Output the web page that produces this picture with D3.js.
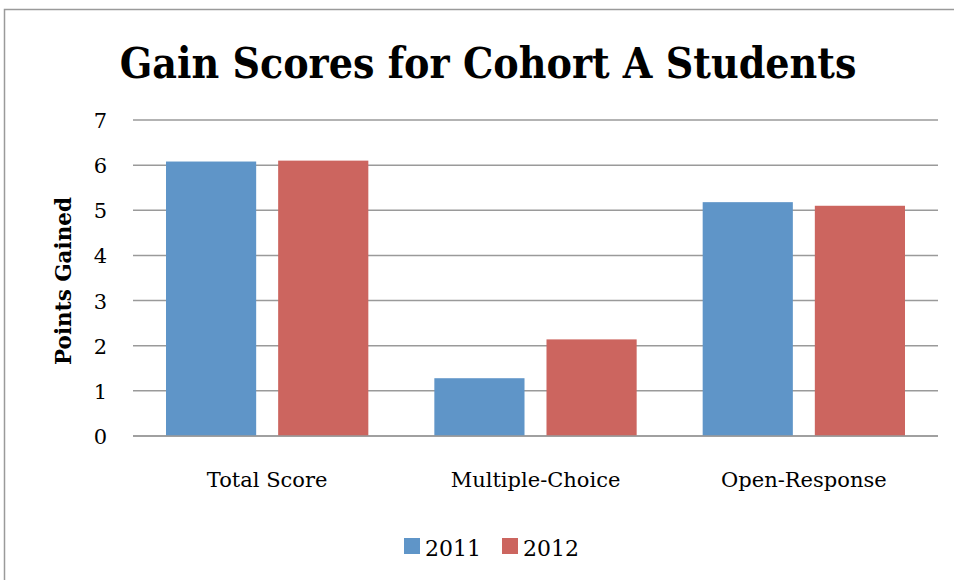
<!DOCTYPE html>
<html><head><meta charset="utf-8">
<script src="https://cdn.jsdelivr.net/npm/d3@7"></script>
<style>body{margin:0;background:#fff}svg{display:block}</style>
</head><body>
<script>
const categories = ["Total Score", "Multiple-Choice", "Open-Response"];
const seriesNames = ["2011", "2012"];
const values2011 = [6.08, 1.28, 5.18];
const values2012 = [6.10, 2.14, 5.10];
const yTicks = [0, 1, 2, 3, 4, 5, 6, 7];
const colors = ["#5F95C8", "#CC655F"];

const W = 954, H = 580;
const m = {left: 133, right: 938, top: 120, bottom: 436};
const svg = d3.select("body").append("svg").attr("width", W).attr("height", H);
const serif = "'DejaVu Serif', 'Liberation Serif', serif";

svg.append("rect").attr("x", 4.5).attr("y", 9.5).attr("width", 1000).attr("height", 700)
  .attr("fill", "none").attr("stroke", "#9a9a9a").attr("stroke-width", 1.5);

const y = d3.scaleLinear().domain([0, 7]).range([m.bottom, m.top]);
const x0 = d3.scaleBand().domain(categories).range([m.left, m.right]).paddingInner(0.246).paddingOuter(0.123);
const x1 = d3.scaleBand().domain(seriesNames).range([0, x0.bandwidth()]).paddingInner(0.196);

svg.append("g").selectAll("line").data(yTicks).join("line")
  .attr("x1", m.left).attr("x2", m.right)
  .attr("y1", d => y(d)).attr("y2", d => y(d))
  .attr("stroke", "#9a9a9a").attr("stroke-width", 1.5);

const yAxis = d3.axisLeft(y).tickValues(yTicks).tickSize(0).tickPadding(0).tickFormat(d3.format("d"));
const ya = svg.append("g").attr("transform", `translate(${m.left - 26},0)`).call(yAxis);
ya.select(".domain").remove();
ya.selectAll("text").attr("font-family", serif).attr("font-size", 21).attr("fill", "#000").attr("dy", "0.36em");

const data = categories.map((c, i) => ({cat: c, vals: [values2011[i], values2012[i]]}));
const groups = svg.append("g").selectAll("g").data(data).join("g")
  .attr("transform", d => `translate(${x0(d.cat)},0)`);
groups.selectAll("rect").data(d => d.vals.map((v, j) => ({s: seriesNames[j], v, j}))).join("rect")
  .attr("x", d => x1(d.s)).attr("width", x1.bandwidth())
  .attr("y", d => y(d.v)).attr("height", d => y(0) - y(d.v))
  .attr("fill", d => colors[d.j]);

svg.append("line").attr("x1", m.left).attr("x2", m.right).attr("y1", y(0)).attr("y2", y(0))
  .attr("stroke", "#9a9a9a").attr("stroke-width", 1.5);

const xAxis = d3.axisBottom(x0).tickSize(0).tickPadding(0);
const xa = svg.append("g").attr("transform", `translate(0,${m.bottom})`).call(xAxis);
xa.select(".domain").remove();
xa.selectAll("text").attr("font-family", serif).attr("font-size", 21).attr("fill", "#000").attr("y", 51).attr("dy", 0);

svg.append("text").attr("transform", `translate(71,281) rotate(-90)`).attr("text-anchor", "middle")
  .attr("font-family", serif).attr("font-weight", "bold").attr("font-size", 21.5).text("Points Gained");

const title = svg.append("text").attr("x", 488).attr("y", 78).attr("text-anchor", "middle")
  .attr("font-family", "'DejaVu Serif Condensed', 'DejaVu Serif', serif").style("font-stretch", "condensed")
  .attr("font-weight", "bold").attr("font-size", 46)
  .text("Gain Scores for Cohort A Students");
const tw = title.node().getComputedTextLength();
if (tw > 745) title.attr("font-size", 46 * 737 / tw);

const leg = svg.append("g");
const legX = [404, 502];
seriesNames.forEach((s, i) => {
  leg.append("rect").attr("x", legX[i]).attr("y", 538).attr("width", 16).attr("height", 16).attr("fill", colors[i]);
  leg.append("text").attr("x", legX[i] + 21).attr("y", 556).attr("font-family", serif).attr("font-size", 22).text(s);
});
</script>
</body></html>
